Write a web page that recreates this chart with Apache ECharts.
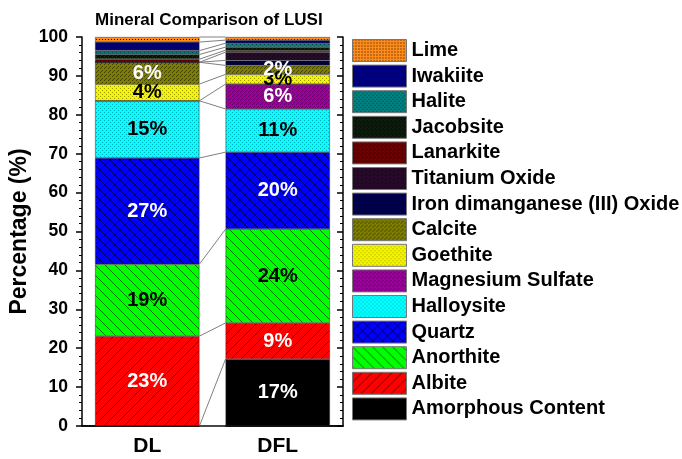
<!DOCTYPE html>
<html>
<head>
<meta charset="utf-8">
<script src="https://cdn.jsdelivr.net/npm/echarts@6/dist/echarts.min.js"></script>
<style>
  html, body { margin: 0; padding: 0; background: #fff; }
  #main { width: 682px; height: 459px; }
</style>
</head>
<body>
<div id="main"></div>
<script>
// 类目
const categories = ['DL', 'DFL']
// 各矿物含量 (%)，从下往上堆叠
const amorphous = [0, 17.2]
const albite = [23.1, 9.3]
const anorthite = [18.5, 24.1]
const quartz = [27.3, 19.8]
const halloysite = [14.7, 11.1]
const magnesiumSulfate = [0, 6.4]
const goethite = [4.3, 2.5]
const calcite = [5.6, 2.3]
const ironDimanganese = [0, 1.3]
const titaniumOxide = [0, 2.1]
const lanarkite = [0.8, 0.5]
const jacobsite = [1.2, 0.8]
const halite = [1.0, 1.0]
const iwakiite = [2.2, 0.8]
const lime = [1.3, 0.8]
// 纵坐标刻度
const yTicks = [0, 10, 20, 30, 40, 50, 60, 70, 80, 90, 100]

// 填充图案
function makePattern(base, kind, ink) {
    const s = (kind === 'diagR' || kind === 'diagL' || kind === 'cross') ? 10 : (kind === 'grid' ? 3 : 4)
    const c = document.createElement('canvas')
    c.width = c.height = s
    const g = c.getContext('2d')
    g.fillStyle = base
    g.fillRect(0, 0, s, s)
    g.strokeStyle = ink
    g.fillStyle = ink
    g.lineWidth = 1
    if (kind === 'diagR' || kind === 'cross') { // '/'
        g.beginPath()
        g.moveTo(0, s); g.lineTo(s, 0)
        g.moveTo(-2, 2); g.lineTo(2, -2)
        g.moveTo(s - 2, s + 2); g.lineTo(s + 2, s - 2)
        g.stroke()
    }
    if (kind === 'diagL' || kind === 'cross') { // '\'
        g.beginPath()
        g.moveTo(0, 0); g.lineTo(s, s)
        g.moveTo(s - 2, -2); g.lineTo(s + 2, 2)
        g.moveTo(-2, s - 2); g.lineTo(2, s + 2)
        g.stroke()
    }
    if (kind === 'dots') {
        g.fillRect(0, 0, 1, 1)
        g.fillRect(2, 2, 1, 1)
    }
    if (kind === 'grid') {
        g.fillRect(0, 0, 1, 1)
    }
    if (kind === 'fine') {
        g.fillRect(0, 0, 1, 1)
        g.fillRect(2, 2, 1, 1)
        g.fillRect(1, 3, 1, 1)
    }
    return { image: c, repeat: 'repeat' }
}

const seriesDefs = [
    { name: 'Amorphous Content', data: amorphous, fill: '#000000', label: '#fff' },
    { name: 'Albite', data: albite, fill: makePattern('#ff0000', 'diagR', 'rgba(60,0,0,0.75)'), label: '#fff' },
    { name: 'Anorthite', data: anorthite, fill: makePattern('#00ff00', 'diagL', 'rgba(0,70,0,0.75)'), label: '#000' },
    { name: 'Quartz', data: quartz, fill: makePattern('#0000ff', 'cross', 'rgba(0,0,60,0.8)'), label: '#fff' },
    { name: 'Halloysite', data: halloysite, fill: makePattern('#00ffff', 'dots', 'rgba(0,120,140,0.6)'), label: '#000' },
    { name: 'Magnesium Sulfate', data: magnesiumSulfate, fill: makePattern('#9c009c', 'fine', 'rgba(70,0,70,0.6)'), label: '#fff' },
    { name: 'Goethite', data: goethite, fill: makePattern('#f4f400', 'dots', 'rgba(120,120,0,0.7)'), label: '#000' },
    { name: 'Calcite', data: calcite, fill: makePattern('#7d7d00', 'fine', 'rgba(40,40,0,0.7)'), label: '#fff' },
    { name: 'Iron dimanganese (III) Oxide', data: ironDimanganese, fill: makePattern('#000050', 'fine', 'rgba(0,0,20,0.7)') },
    { name: 'Titanium Oxide', data: titaniumOxide, fill: makePattern('#2a0a2c', 'fine', 'rgba(0,0,0,0.6)') },
    { name: 'Lanarkite', data: lanarkite, fill: makePattern('#700000', 'fine', 'rgba(30,0,0,0.6)') },
    { name: 'Jacobsite', data: jacobsite, fill: makePattern('#081408', 'fine', 'rgba(40,70,40,0.5)') },
    { name: 'Halite', data: halite, fill: makePattern('#008080', 'dots', 'rgba(0,40,40,0.7)') },
    { name: 'Iwakiite', data: iwakiite, fill: makePattern('#000085', 'fine', 'rgba(0,0,40,0.5)') },
    { name: 'Lime', data: lime, fill: makePattern('#ff8c1a', 'grid', '#1a0a00') }
]

// 累计值，用于两柱之间的连接线
const cumDL = [0]
const cumDFL = [0]
seriesDefs.forEach(s => {
    cumDL.push(cumDL[cumDL.length - 1] + s.data[0])
    cumDFL.push(cumDFL[cumDFL.length - 1] + s.data[1])
})

const BAR_RATIO = 0.8
const FONT = '"Liberation Sans", Arial, sans-serif'

const barSeries = seriesDefs.map(s => ({
    name: s.name,
    type: 'bar',
    stack: 'total',
    barWidth: BAR_RATIO * 100 + '%',
    data: s.data,
    itemStyle: { color: s.fill, borderColor: 'rgba(40,40,40,0.8)', borderWidth: 0.6 },
    label: {
        show: !!s.label,
        position: 'inside',
        color: s.label || '#000',
        fontFamily: FONT,
        fontWeight: 'bold',
        fontSize: 20,
        formatter: p => p.value >= 1.5 ? Math.round(p.value) + '%' : ''
    },
    emphasis: { disabled: true },
    animation: false
}))

const linkSeries = {
    type: 'custom',
    silent: true,
    clip: false,
    z: 1,
    data: cumDL.map((v, k) => [0, 0, k]),
    renderItem(params, api) {
        const k = api.value(2)
        const half = api.size([1, 0])[0] * BAR_RATIO / 2
        const p0 = api.coord([0, cumDL[k]])
        const p1 = api.coord([1, cumDFL[k]])
        return {
            type: 'line',
            shape: { x1: p0[0] + half, y1: p0[1], x2: p1[0] - half, y2: p1[1] },
            style: { stroke: '#808080', lineWidth: 1 }
        }
    },
    animation: false
}

const chart = echarts.init(document.getElementById('main'))
chart.setOption({
    backgroundColor: '#fff',
    title: {
        text: 'Mineral Comparison of LUSI',
        left: 95,
        top: 12,
        padding: 0,
        textStyle: { fontFamily: FONT, fontWeight: 'bold', fontSize: 17, color: '#000' }
    },
    grid: { left: 82, right: 339, top: 37, bottom: 33 },
    legend: {
        orient: 'vertical',
        left: 352,
        top: 39,
        padding: 0,
        itemWidth: 54,
        itemHeight: 22,
        itemGap: 2.6,
        icon: 'rect',
        data: seriesDefs.map(s => s.name).reverse(),
        itemStyle: { borderColor: '#777', borderWidth: 1 },
        textStyle: { fontFamily: FONT, fontWeight: 'bold', fontSize: 20, color: '#000', lineHeight: 22 },
        selectedMode: false
    },
    xAxis: [{
        type: 'category',
        data: categories,
        axisLine: { lineStyle: { color: '#000', width: 1.5 } },
        axisTick: { alignWithLabel: true, length: 6, lineStyle: { color: '#000', width: 1.5 } },
        axisLabel: { fontFamily: FONT, fontWeight: 'bold', fontSize: 21, color: '#000', margin: 10 }
    }, {
        type: 'category',
        data: categories,
        position: 'top',
        axisLine: { lineStyle: { color: '#000', width: 1.5 } },
        axisTick: { show: false },
        axisLabel: { show: false }
    }],
    yAxis: [{
        type: 'value',
        min: yTicks[0],
        max: yTicks[yTicks.length - 1],
        interval: yTicks[1] - yTicks[0],
        name: 'Percentage (%)',
        nameLocation: 'middle',
        nameGap: 51,
        nameTextStyle: { fontFamily: FONT, fontWeight: 'bold', fontSize: 23, color: '#000' },
        axisLine: { show: true, lineStyle: { color: '#000', width: 1.5 } },
        axisTick: { show: true, length: 6, lineStyle: { color: '#000', width: 1.5 } },
        minorTick: { show: true, splitNumber: 5, length: 3, lineStyle: { color: '#000', width: 1 } },
        splitLine: { show: false },
        axisLabel: { fontFamily: FONT, fontWeight: 'bold', fontSize: 17.5, color: '#000', margin: 14 }
    }, {
        type: 'value',
        position: 'right',
        min: yTicks[0],
        max: yTicks[yTicks.length - 1],
        interval: yTicks[1] - yTicks[0],
        axisLine: { show: true, lineStyle: { color: '#000', width: 1.5 } },
        axisTick: { show: true, inside: true, length: 6, lineStyle: { color: '#000', width: 1.5 } },
        minorTick: { show: true, splitNumber: 5, length: 3, lineStyle: { color: '#000', width: 1 } },
        splitLine: { show: false },
        axisLabel: { show: false }
    }],
    series: [...barSeries, linkSeries]
})
</script>
</body>
</html>
